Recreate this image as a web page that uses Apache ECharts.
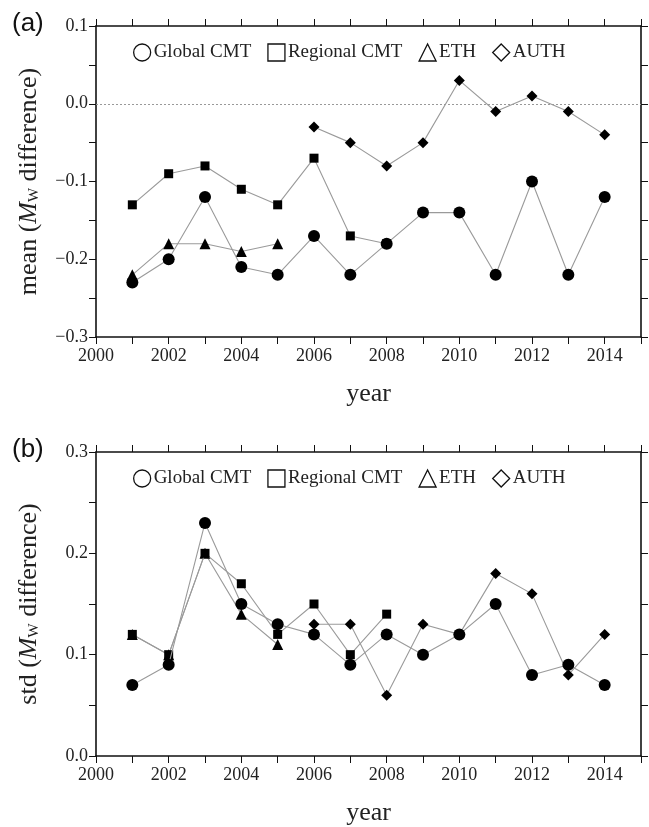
<!DOCTYPE html>
<html>
<head>
<meta charset="utf-8">
<script src="https://cdn.jsdelivr.net/npm/echarts@6/dist/echarts.min.js"></script>
<style>
html,body{margin:0;padding:0;background:#fff;}
#c{width:649px;height:827px;}
</style>
</head>
<body>
<div id="c"></div>
<script>
// ---- data ----
const years = [2001,2002,2003,2004,2005,2006,2007,2008,2009,2010,2011,2012,2013,2014];
const seriesNames = ['Global CMT','Regional CMT','ETH','AUTH'];
const meanGlobal   = [-0.23,-0.20,-0.12,-0.21,-0.22,-0.17,-0.22,-0.18,-0.14,-0.14,-0.22,-0.10,-0.22,-0.12];
const meanRegional = [-0.13,-0.09,-0.08,-0.11,-0.13,-0.07,-0.17,-0.18,null,null,null,null,null,null];
const meanETH      = [-0.22,-0.18,-0.18,-0.19,-0.18,null,null,null,null,null,null,null,null,null];
const meanAUTH     = [null,null,null,null,null,-0.03,-0.05,-0.08,-0.05,0.03,-0.01,0.01,-0.01,-0.04];
const stdGlobal    = [0.07,0.09,0.23,0.15,0.13,0.12,0.09,0.12,0.10,0.12,0.15,0.08,0.09,0.07];
const stdRegional  = [0.12,0.10,0.20,0.17,0.12,0.15,0.10,0.14,null,null,null,null,null,null];
const stdETH       = [0.12,0.10,0.20,0.14,0.11,null,null,null,null,null,null,null,null,null];
const stdAUTH      = [null,null,null,null,null,0.13,0.13,0.06,0.13,0.12,0.18,0.16,0.08,0.12];
const xTicks = [2000,2002,2004,2006,2008,2010,2012,2014];
const panelLabels = ['(a)','(b)'];
const yNames = ['mean','std'];

// ---- styling ----
const SERIF = 'Liberation Serif';
const symbols = {'Global CMT':['circle',12],'Regional CMT':['rect',9],'ETH':['triangle',11],'AUTH':['diamond',11]};
const zOrder = {'Global CMT':5,'Regional CMT':3,'ETH':2,'AUTH':4};

function pairs(vals){ return years.map((y,i)=> vals[i]==null ? [y,null] : [y,vals[i]]); }
function fmtY(v){
  const r = Math.round(v*100);
  if (Math.abs(r) % 10 !== 0) return '';
  if (r === 0) return '0.0';
  const s = Math.abs(v).toFixed(1);
  return r < 0 ? '\u2212' + s : s;
}
function fmtX(v){ return xTicks.indexOf(v) >= 0 ? String(v) : ''; }

const grids = [
  {left:96, right:8, top:26, height:311},
  {left:96, right:8, top:452, height:312}
];
const yRanges = [[-0.3,0.1],[0,0.3]];

const xAxes = [], yAxes = [], series = [];
grids.forEach((g,gi)=>{
  const axisLine = {show:true, onZero:false, lineStyle:{color:'#111', width:1.6}};
  const axisTick = {show:true, inside:false, length:7, lineStyle:{color:'#111', width:1}};
  xAxes.push({type:'value', gridIndex:gi, min:2000, max:2015, interval:1, position:'bottom',
    axisLine, axisTick, splitLine:{show:false},
    axisLabel:{formatter:fmtX, fontFamily:SERIF, fontSize:18, color:'#222', margin:10},
    name:'year', nameLocation:'middle', nameGap:44,
    nameTextStyle:{fontFamily:SERIF, fontSize:26, color:'#222'}});
  xAxes.push({type:'value', gridIndex:gi, min:2000, max:2015, interval:1, position:'top',
    axisLine, axisTick, splitLine:{show:false}, axisLabel:{show:false}});
  yAxes.push({type:'value', gridIndex:gi, min:yRanges[gi][0], max:yRanges[gi][1], interval:0.05, position:'left',
    axisLine, axisTick, splitLine:{show:false},
    axisLabel:{formatter:fmtY, fontFamily:SERIF, fontSize:18, color:'#222', margin:8},
    name:'{n|' + yNames[gi] + ' (}{i|M}{s|W}{n| difference)}',
    nameLocation:'middle', nameGap:54, nameRotate:90,
    nameTextStyle:{rich:{
      n:{fontFamily:SERIF, fontSize:26, color:'#222'},
      i:{fontFamily:SERIF, fontSize:26, fontStyle:'italic', color:'#222'},
      s:{fontFamily:SERIF, fontSize:15, color:'#222', verticalAlign:'bottom', padding:[10,0,0,0]}
    }}});
  yAxes.push({type:'value', gridIndex:gi, min:yRanges[gi][0], max:yRanges[gi][1], interval:0.05, position:'right',
    axisLine, axisTick, splitLine:{show:false}, axisLabel:{show:false}});
});

const panelData = [
  {'Global CMT':meanGlobal,'Regional CMT':meanRegional,'ETH':meanETH,'AUTH':meanAUTH},
  {'Global CMT':stdGlobal,'Regional CMT':stdRegional,'ETH':stdETH,'AUTH':stdAUTH}
];
panelData.forEach((pd,gi)=>{
  seriesNames.forEach(name=>{
    series.push({
      type:'line', name, xAxisIndex:gi*2, yAxisIndex:gi*2,
      data:pairs(pd[name]), connectNulls:false,
      symbol:symbols[name][0], symbolSize:symbols[name][1], showAllSymbol:true,
      lineStyle:{color:'#9a9a9a', width:1.1},
      itemStyle:{color:'#000', borderColor:'#000', borderWidth:0},
      z:zOrder[name], animation:false, silent:true
    });
  });
});
// dotted zero line on panel (a)
series.push({type:'line', name:'zero', xAxisIndex:0, yAxisIndex:0, data:[], silent:true, animation:false,
  markLine:{silent:true, symbol:['none','none'], label:{show:false},
    lineStyle:{color:'#999', type:[2,2], width:1},
    data:[{yAxis:0}]}, z:1});

const legendData = seriesNames.map(n=>({
  name:n,
  icon: symbols[n][0],
  itemStyle:{color:'#fff', borderColor:'#111', borderWidth:1.3}
}));
const legends = [43, 469].map(top=>({
  data:legendData, left:133, top, orient:'horizontal', itemGap:16, itemWidth:17, itemHeight:17,
  padding:0, selectedMode:false,
  textStyle:{fontFamily:SERIF, fontSize:19, color:'#222', padding:[0,0,0,-2]}
}));

const option = {
  animation:false,
  backgroundColor:'#fff',
  grid:grids,
  xAxis:xAxes, yAxis:yAxes, series, legend:legends,
  graphic:[
    {type:'text', left:12, top:11, style:{text:panelLabels[0], font:'26px "Liberation Sans"', fill:'#111'}},
    {type:'text', left:12, top:437, style:{text:panelLabels[1], font:'26px "Liberation Sans"', fill:'#111'}}
  ]
};
const chart = echarts.init(document.getElementById('c'), null, {renderer:'canvas'});
chart.setOption(option);
</script>
</body>
</html>
